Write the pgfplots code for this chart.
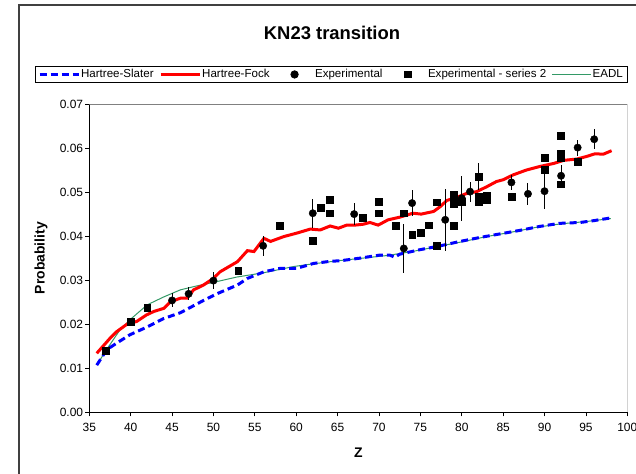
\documentclass[border=0pt]{standalone}
\usepackage{fontspec}
\setmainfont{Liberation Sans}
\usepackage{pgfplots}
\pgfplotsset{compat=1.18}
\definecolor{hsblue}{RGB}{0,0,255}
\definecolor{hfred}{RGB}{255,0,0}
\definecolor{eadlgreen}{RGB}{51,153,102}
\pgfplotsset{markleg/.style={legend image code/.code={\path[draw=none,fill=none] (0bp,0bp) -- (39bp,0bp); \draw[##1] plot coordinates {(19.5bp,0bp)};}}}
\begin{document}
\begin{tikzpicture}
\useasboundingbox (0bp,0bp) rectangle (636bp,474bp);
\draw[black!75, line width=1.5bp] (19bp,469bp) rectangle (700bp,-50bp);
\node[font=\fontsize{18.5}{22}\selectfont\bfseries] at (332bp,441bp) {KN23 transition};
\begin{axis}[
  at={(89.3bp,61.7bp)}, anchor=south west, scale only axis,
  width=538bp, height=308.3bp,
  xmin=35, xmax=100, ymin=0, ymax=0.07,
  xtick={35,40,45,50,55,60,65,70,75,80,85,90,95,100},
  ytick={0,0.01,0.02,0.03,0.04,0.05,0.06,0.07},
  scaled y ticks=false,
  axis lines*=left,
  axis line style={-, black, line width=0.8bp},
  tick align=outside, major tick length=4bp,
  tick style={black, line width=0.8bp},
  /pgf/number format/assume math mode=true,
  ticklabel style={font=\fontsize{12}{14}\selectfont},
  yticklabel style={/pgf/number format/.cd, fixed, fixed zerofill, precision=2, /tikz/.cd, inner xsep=1bp, xshift=-1bp},
  xticklabel style={yshift=-3bp},
  xlabel={Z}, ylabel={Probability},
  label style={font=\fontsize{14}{16}\selectfont\bfseries},
  xlabel style={at={(axis description cs:0.5,-0.132)}, anchor=center},
  ylabel style={at={(axis description cs:-0.0898,0.5)}, anchor=center},
  legend columns=5,
  legend cell align=left,
  legend style={at={(1,1.068)}, anchor=south east, draw=black, line width=0.8bp,
    font=\fontsize{11.6}{13}\selectfont, inner xsep=3bp, inner ysep=2bp,
    nodes={inner sep=1bp, text depth=0.2em},
    /tikz/every even column/.append style={column sep=4.5bp}},
  legend image code/.code={\draw[mark repeat=2,mark phase=2,#1] plot coordinates {(0bp,0bp) (19.5bp,0bp) (39bp,0bp)};},
]
\draw[gray, line width=0.8bp] (rel axis cs:0,1) -- (rel axis cs:1,1) -- (rel axis cs:1,0);
% EADL
\addplot[eadlgreen, line width=1bp, forget plot] coordinates {
(36,0.0110) (37,0.0140) (38.7,0.0187) (39.9,0.0210) (42.0,0.0244) (44.0,0.0262)
(46.0,0.0278) (48.0,0.0287) (50.0,0.0295) (52.8,0.0307) (56.1,0.0317) (59.7,0.0331)
(62,0.0337) (65,0.0344) (68,0.0350) (71,0.0356) (74,0.0365) (77,0.0376) (80,0.0387)
(83,0.0399) (86,0.0409) (89,0.0420) (92,0.0428) (95,0.0433) (98,0.0440)};
% Hartree-Slater
\addplot[hsblue, line width=3bp, dash pattern=on 7bp off 4bp] coordinates {
(35.9,0.0107) (37.1,0.0142) (38.3,0.0157) (39.9,0.0176) (41.9,0.0193) (44.0,0.0213)
(46.0,0.0226) (47.2,0.0238) (48.8,0.0254) (50.4,0.0269) (52.9,0.0289) (54.1,0.0304)
(56.1,0.0319) (58.1,0.0327) (60.1,0.0327) (62.1,0.0338) (64.2,0.0343) (65.3,0.0344)
(67.7,0.0350) (70.1,0.0357) (71.3,0.0357) (71.9,0.0352) (72.5,0.0359) (74.9,0.0369)
(77.4,0.0378) (79.8,0.0388) (82.2,0.0397) (84.6,0.0405) (87.0,0.0413) (89.4,0.0422)
(91.8,0.0429) (94.3,0.0431) (95.9,0.0435) (97.9,0.0441)};
\addlegendentry{Hartree-Slater}
% Hartree-Fock
\addplot[hfred, line width=3bp] coordinates {
(35.9,0.0134) (37.5,0.0168) (38.3,0.0183) (39.7,0.0202) (40.7,0.0206) (41.9,0.0221)
(42.8,0.0229) (44.0,0.0236) (44.8,0.0251) (46.0,0.0259) (46.8,0.0259) (47.6,0.0278)
(48.8,0.0289) (50.0,0.0304) (50.8,0.0319) (52.9,0.0342) (54.1,0.0367) (54.9,0.0365)
(56.1,0.0395) (56.9,0.0388) (58.5,0.0399) (60.1,0.0407) (61.7,0.0416) (62.9,0.0414)
(64.1,0.0423) (65.1,0.0418) (66.1,0.0425) (67.1,0.0425) (68.1,0.0427) (68.9,0.0431)
(69.9,0.0425) (71.1,0.0437) (72.5,0.0443) (74.1,0.0452) (75.1,0.0450) (76.6,0.0456)
(77.4,0.0467) (78.2,0.0481) (79.4,0.0488) (80.6,0.0497) (81.8,0.0501) (83.0,0.0512)
(84.2,0.0524) (85.0,0.0528) (86.2,0.0539) (87.8,0.0550) (89.4,0.0558) (91.1,0.0565)
(92.3,0.0572) (93.9,0.0575) (95.1,0.0581) (96.1,0.0587) (97.1,0.0586) (98.1,0.0594)};
\addlegendentry{Hartree-Fock}
% Experimental (circles)
\addplot[only marks, mark=*, mark size=3.7bp, black, markleg,
  error bars/.cd, y dir=both, y explicit, error mark=none,
  error bar style={black, line width=1bp}] coordinates {
(45,0.0254) +- (0,0.0016)
(47,0.0269) +- (0,0.0015)
(50,0.0299) +- (0,0.0019)
(56,0.0378) +- (0,0.0023)
(62,0.0452) +- (0,0.0033)
(67,0.0450) +- (0,0.0025)
(73,0.0372) +- (0,0.0056)
(74,0.0475) +- (0,0.0030)
(78,0.0437) +- (0,0.0070)
(80,0.0486) +- (0,0.0051)
(81,0.0501) +- (0,0.0023)
(86,0.0522) +- (0,0.0017)
(88,0.0496) +- (0,0.0025)
(90,0.0502) +- (0,0.0040)
(92,0.0537) +- (0,0.0025)
(94,0.0601) +- (0,0.0018)
(96,0.0620) +- (0,0.0023)};
\addlegendentry{Experimental}
% Experimental - series 2 (squares)
\addplot[only marks, mark=square*, mark size=3.4bp, black, markleg,
  error bars/.cd, y dir=both, y explicit, error mark=none,
  error bar style={black, line width=1bp}] coordinates {
(37,0.0139) +- (0,0) (40,0.0206) +- (0,0) (42,0.0238) +- (0,0) (53,0.0322) +- (0,0)
(58,0.0423) +- (0,0) (62,0.0390) +- (0,0) (63,0.0464) +- (0,0) (64,0.0483) +- (0,0)
(64,0.0452) +- (0,0) (68,0.0441) +- (0,0) (70,0.0478) +- (0,0) (70,0.0452) +- (0,0)
(72,0.0423) +- (0,0) (73,0.0452) +- (0,0) (74,0.0404) +- (0,0) (75,0.0408) +- (0,0)
(76,0.0425) +- (0,0) (77,0.0477) +- (0,0) (77,0.0378) +- (0,0) (79,0.0494) +- (0,0)
(79,0.0482) +- (0,0) (79,0.0473) +- (0,0) (79,0.0423) +- (0,0) (80,0.0478) +- (0,0)
(82,0.0535) +- (0,0.0030) (82,0.0490) +- (0,0) (82,0.0478) +- (0,0) (83,0.0491) +- (0,0)
(83,0.0482) +- (0,0) (86,0.0490) +- (0,0) (90,0.0578) +- (0,0) (90,0.0550) +- (0,0)
(92,0.0628) +- (0,0) (92,0.0588) +- (0,0) (92,0.0577) +- (0,0) (92,0.0518) +- (0,0)
(94,0.0569) +- (0,0)};
\addlegendentry{Experimental - series 2}
\addlegendimage{eadlgreen, line width=1bp}
\addlegendentry{EADL}
\end{axis}
\end{tikzpicture}
\end{document}
